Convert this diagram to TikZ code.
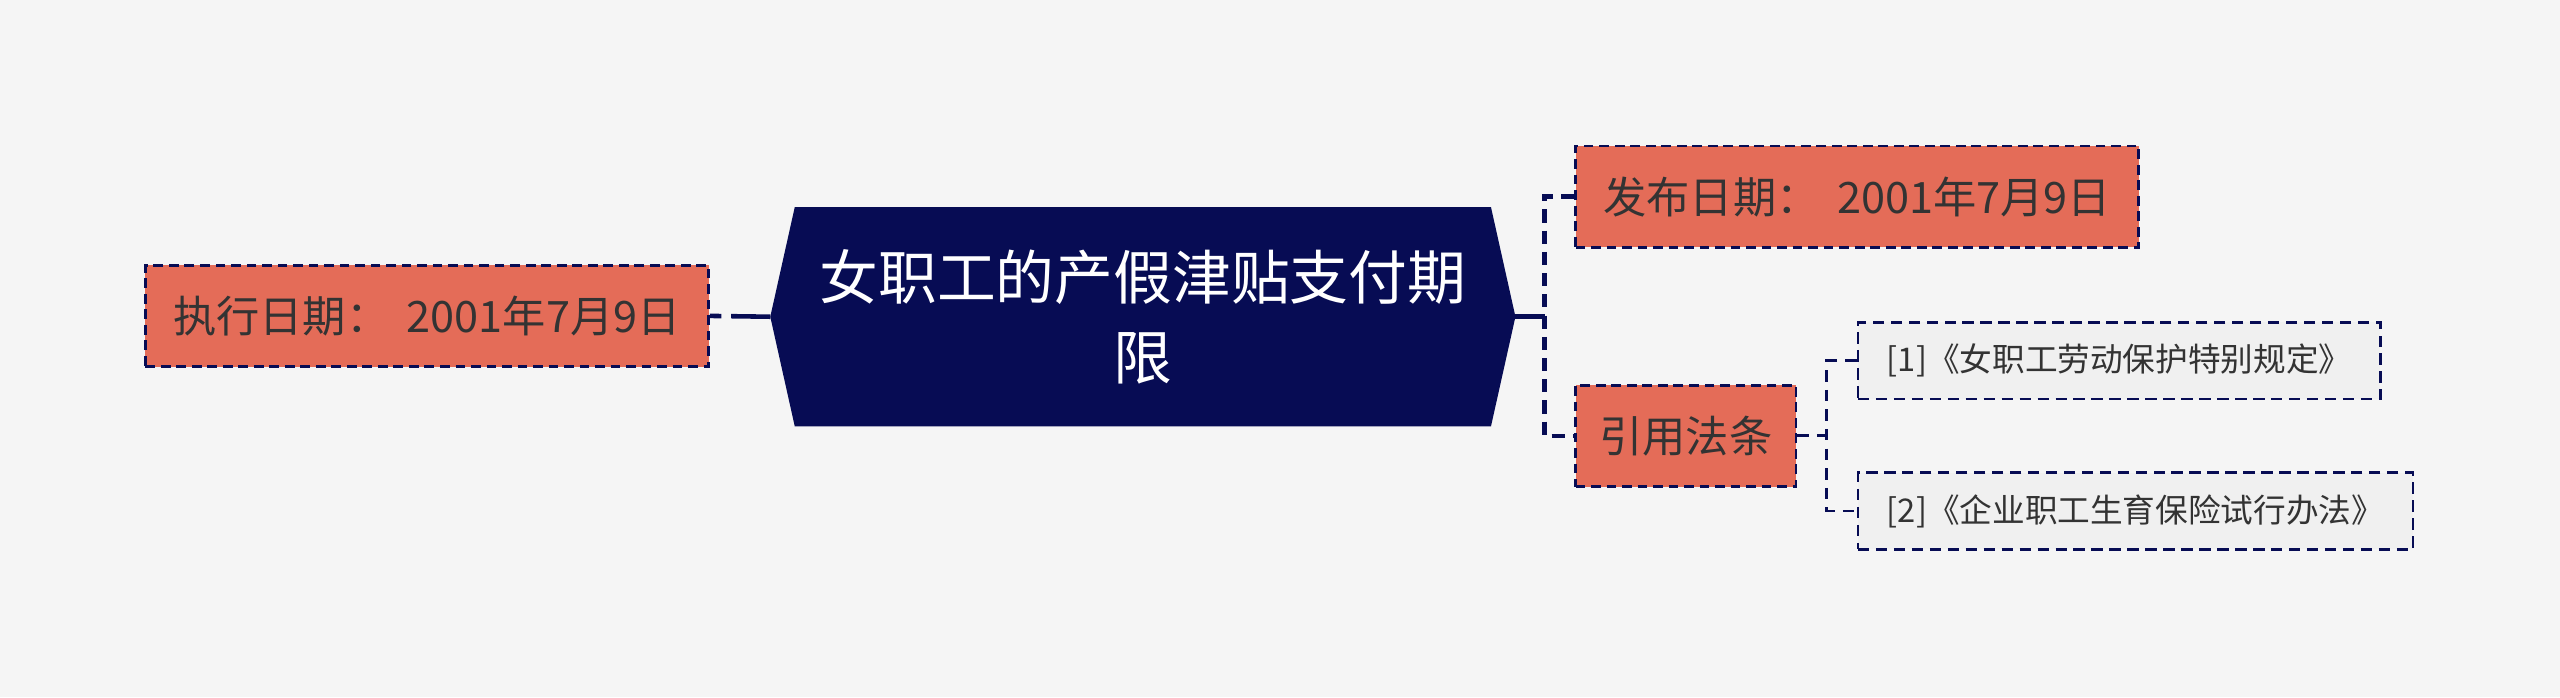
\documentclass[tikz,border=0pt]{standalone}
\usepackage{fontspec}
\setmainfont{Noto Sans CJK SC}
\usetikzlibrary{backgrounds}
\definecolor{bgc}{HTML}{F5F5F5}
\definecolor{navy}{HTML}{070C54}
\definecolor{salmon}{HTML}{E46C58}
\definecolor{txt}{HTML}{333333}
\definecolor{leaffill}{HTML}{F0F0F0}
\tikzset{
  mainbox/.style={inner sep=0pt, minimum width=456pt, minimum height=134pt, align=center,
    text=white, font=\fontsize{36}{49}\selectfont},
  topic/.style={fill=salmon, draw=navy, line width=1.6pt, dash pattern=on 6pt off 3.5pt,
    text=txt, font=\fontsize{26.5}{30}\selectfont, inner xsep=0pt, inner ysep=0pt, minimum height=62pt},
  leaf/.style={fill=leaffill, draw=navy, line width=1.5pt, dash pattern=on 7pt off 4pt,
    text=txt, font=\fontsize{20}{24}\selectfont, inner xsep=0pt, inner ysep=0pt, minimum height=47pt},
  conn/.style={draw=navy, line width=2.8pt},
  dconn/.style={draw=navy, line width=2.8pt, dash pattern=on 8pt off 5pt},
  lconn/.style={draw=navy, line width=1.8pt, dash pattern=on 7pt off 5pt},
}
\begin{document}
\begin{tikzpicture}[x=1pt,y=-1pt]
\begin{scope}[on background layer]
\fill[bgc] (0,0) rectangle (1568,427);
\end{scope}
\useasboundingbox (0,0) rectangle (1568,427);

\node[mainbox] (main) at (700,194) {女职工的产假津贴支付期\\限};
\begin{scope}[on background layer]
\fill[navy] (main.west) -- ([xshift=15pt]main.north west) -- ([xshift=-15pt]main.north east)
  -- (main.east) -- ([xshift=-15pt]main.south east) -- ([xshift=15pt]main.south west) -- cycle;
\end{scope}

\node[topic, minimum width=345pt] (exec) at (261.5,193.5) {执行日期：\hspace{0.4em}2001年7月9日};
\node[topic, minimum width=345pt] (fabu) at (1137.5,120.5) {发布日期：\hspace{0.4em}2001年7月9日};
\node[topic, minimum width=135pt] (yin) at (1032.5,267) {引用法条};
\node[leaf, minimum width=320pt] (leaf1) at (1298,221) {[1]《女职工劳动保护特别规定》};
\node[leaf, minimum width=340pt] (leaf2) at (1308,313) {[2]《企业职工生育保险试行办法》};

\coordinate (spine) at (946,194);
\coordinate (spine2) at (1119,267);

\draw[conn, dash pattern=on 7pt off 6pt on 200pt] (exec.east) -- (main.west);
\draw[conn] (main.east) -- (spine);
\draw[dconn] (fabu.west) -| (spine) |- (yin.west);
\draw[lconn] (yin.east) -- (spine2);
\draw[lconn] (leaf1.west) -| (spine2) |- (leaf2.west);
\end{tikzpicture}
\end{document}
